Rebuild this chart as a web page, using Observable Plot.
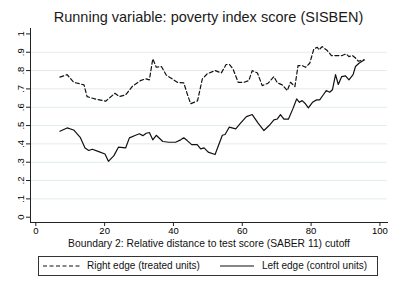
<!DOCTYPE html>
<html><head><meta charset="utf-8">
<script src="https://cdn.jsdelivr.net/npm/d3@7"></script>
<script src="https://cdn.jsdelivr.net/npm/@observablehq/plot@0.6"></script>
<style>
body{margin:0;background:#fff;}
#wrap{position:relative;width:397px;height:288px;font-family:"Liberation Sans",Arial,sans-serif;color:#000;overflow:hidden;background:#fff}
#title{position:absolute;left:30px;width:357px;top:9px;text-align:center;font-size:14.5px;line-height:16px;color:#1a1a1a;white-space:nowrap}
#chart{position:absolute;left:0;top:28px}
#legend{position:absolute;left:38px;top:256px;width:340px;height:20px;border:1px solid #333;box-sizing:border-box;font-size:10px;line-height:18px}
.item{position:absolute;top:0;height:18px;white-space:nowrap}
.item svg{position:absolute;top:0}
</style></head>
<body><div id="wrap"><div id="title"></div><div id="chart"></div><div id="legend"></div></div>
<script>
const titleText = "Running variable: poverty index score (SISBEN)";
const xLabel = "Boundary 2: Relative distance to test score (SABER 11) cutoff";
const xTicks = [0, 20, 40, 60, 80, 100];
const yTicks = [0, 0.1, 0.2, 0.3, 0.4, 0.5, 0.6, 0.7, 0.8, 0.9, 1];
const yTickLabels = ["0", ".1", ".2", ".3", ".4", ".5", ".6", ".7", ".8", ".9", "1"];
const gridTicks = [0.1, 0.2, 0.3, 0.4, 0.5, 0.6, 0.7, 0.8, 0.9];
const seriesNames = ["Right edge (treated units)", "Left edge (control units)"];

const rightX = [7, 9.1, 11, 14, 14.9, 17.4, 20.3, 23, 24.3, 26.1, 28, 30.4, 31.9, 33, 34, 35, 36.5, 37.9, 39.6, 41.1,
  43, 44, 45, 47, 48.4, 49.8, 52.1, 53.9, 55.3, 56.3, 57.3, 58.8, 60.5, 61.9, 62.9, 64.4, 65.8, 67.5, 69.2, 70.2,
  71.6, 73.1, 74, 75.3, 76.2, 77.4, 78.4, 79.6, 80.8, 81.8, 82.3, 83.2, 84.7, 85.9, 87.6, 89, 90.2, 91, 92, 92.9,
  93.7, 95.4];
const rightY = [.764, .778, .736, .722, .658, .644, .633, .676, .658, .667, .713, .745, .755, .749, .864, .818, .822, .776, .755, .736,
  .733, .673, .619, .635, .755, .782, .800, .787, .833, .833, .809, .736, .736, .745, .800, .787, .718, .731, .767, .733,
  .722, .691, .736, .713, .827, .827, .818, .840, .918, .927, .913, .931, .909, .882, .882, .882, .891, .876, .882, .869,
  .851, .858];

const leftX = [7, 9.1, 11, 12.9, 14.3, 15.4, 16.4, 18.3, 20.1, 21.1, 22.7, 24, 26.1, 27.2, 29, 30.1, 31.1, 32.1, 33, 34,
  35, 36.9, 38.7, 40.6, 42.1, 43, 44, 45.3, 46.9, 47.9, 48.9, 50.1, 52.1, 54.2, 55, 56.2, 58.1, 59.5, 61.2, 62.9,
  64.6, 66.3, 67.8, 69.2, 70.2, 71.1, 72.1, 73.4, 74.7, 75.8, 76.6, 77.4, 78.2, 79.2, 80.4, 81.6, 82.5, 83.4, 84.4, 85.4,
  86.2, 87.1, 87.9, 88.9, 90, 91, 92.2, 92.9, 93.9, 95.4];
const leftY = [.469, .487, .476, .436, .378, .364, .371, .358, .345, .305, .336, .382, .378, .433, .447, .455, .445, .458, .462, .422,
  .447, .413, .409, .409, .422, .433, .418, .396, .396, .373, .378, .355, .342, .447, .451, .491, .482, .513, .549, .560,
  .513, .473, .500, .531, .536, .560, .535, .535, .591, .645, .627, .636, .622, .596, .627, .640, .640, .664, .691, .682,
  .695, .778, .724, .767, .771, .749, .778, .822, .840, .858];

const rightData = rightX.map((x, i) => ({x, y: rightY[i]}));
const leftData = leftX.map((x, i) => ({x, y: leftY[i]}));
const lineColor = "#111";
const dash = "4,2.5";

document.getElementById("title").textContent = titleText;

const chart = Plot.plot({
  width: 397,
  height: 222,
  marginLeft: 30,
  marginRight: 10,
  marginTop: 0,
  marginBottom: 28,
  style: {fontFamily: "'Liberation Sans', Arial, sans-serif", fontSize: "9.5px", color: "#000", background: "white", overflow: "visible"},
  x: {domain: [-1.54, 102.2]},
  y: {domain: [-0.0289, 1.0295]},
  marks: [
    Plot.gridY(gridTicks, {stroke: "#e2ecee", strokeOpacity: 1, strokeWidth: 1}),
    Plot.frame({anchor: "left", stroke: "#222"}),
    Plot.frame({anchor: "bottom", stroke: "#222"}),
    Plot.axisY(yTicks, {tickRotate: -90, tickSize: 4, tickPadding: 3, tickFormat: (d, i) => yTickLabels[i], label: null, stroke: "#222"}),
    Plot.axisX(xTicks, {tickSize: 4, tickPadding: 1, label: null, stroke: "#222"}),
    Plot.text([xLabel], {frameAnchor: "bottom", dy: 24.5, fontSize: 10.3, fill: "#111"}),
    Plot.line(rightData, {x: "x", y: "y", stroke: lineColor, strokeWidth: 1.2, strokeDasharray: dash}),
    Plot.line(leftData, {x: "x", y: "y", stroke: lineColor, strokeWidth: 1.2})
  ]
});
document.getElementById("chart").appendChild(chart);

// legend
const legend = document.getElementById("legend");
const items = [
  {name: seriesNames[0], dash: dash, sx: 4, sw: 37, tx: 48},
  {name: seriesNames[1], dash: null, sx: 181, sw: 34, tx: 223}
];
items.forEach(it => {
  const d = document.createElement("div");
  d.className = "item";
  d.style.left = "0px";
  const ns = "http://www.w3.org/2000/svg";
  const s = document.createElementNS(ns, "svg");
  s.setAttribute("width", it.sw);
  s.setAttribute("height", 18);
  s.style.left = it.sx + "px";
  const l = document.createElementNS(ns, "line");
  l.setAttribute("x1", 0); l.setAttribute("x2", it.sw);
  l.setAttribute("y1", 9); l.setAttribute("y2", 9);
  l.setAttribute("stroke", lineColor);
  l.setAttribute("stroke-width", 1.2);
  if (it.dash) l.setAttribute("stroke-dasharray", it.dash);
  s.appendChild(l);
  d.appendChild(s);
  const t = document.createElement("span");
  t.textContent = it.name;
  t.style.position = "absolute";
  t.style.left = it.tx + "px";
  t.style.color = "#111";
  d.appendChild(t);
  legend.appendChild(d);
});
</script></body></html>
